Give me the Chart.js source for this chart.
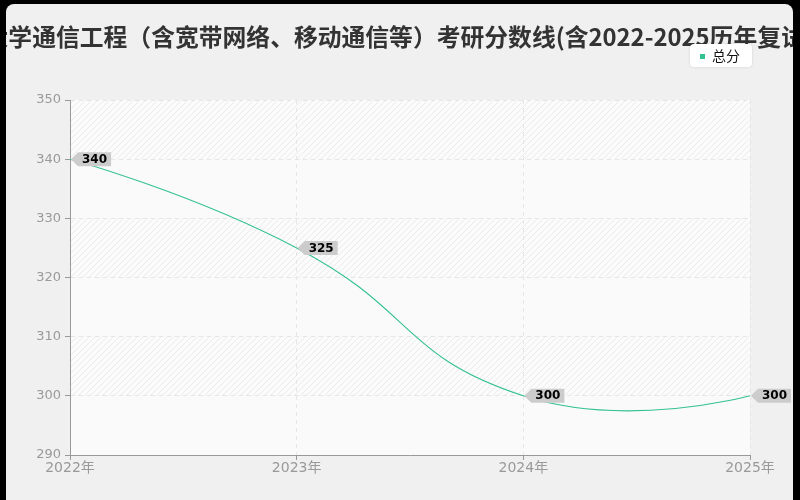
<!DOCTYPE html>
<html><head><meta charset="utf-8">
<script src="https://cdn.jsdelivr.net/npm/chart.js@4"></script>
<style>html,body{margin:0;padding:0;background:#000;}canvas{display:block;}</style>
</head><body>
<canvas id="c" width="800" height="500"></canvas>
<script>
const categories = ['2022年','2023年','2024年','2025年'];
const scores = [340, 325, 300, 300];
const seriesName = '总分';
const titleText = '大学通信工程（含宽带网络、移动通信等）考研分数线(含2022-2025历年复试)';
const yTicks = [290, 300, 310, 320, 330, 340, 350];

const FONT = '"DejaVu Sans","Noto Sans CJK SC",sans-serif';
const TFONT = '"Noto Sans CJK SC","Noto Sans",sans-serif';
const lineColor = '#33c193';

function makePattern(){
  const p = document.createElement('canvas'); p.width = 6; p.height = 6;
  const g = p.getContext('2d');
  g.fillStyle = '#fbfbfb'; g.fillRect(0,0,6,6);
  g.strokeStyle = '#ebebeb'; g.lineWidth = 1;
  g.beginPath(); g.moveTo(0,6); g.lineTo(6,0); g.moveTo(-1,1); g.lineTo(1,-1); g.moveTo(5,7); g.lineTo(7,5); g.stroke();
  return p;
}

const bgPlugin = {
  id: 'bg',
  beforeDraw(chart){
    const ctx = chart.ctx;
    ctx.save();
    ctx.fillStyle = '#000'; ctx.fillRect(0,0,800,500);
    ctx.fillStyle = '#f0f0f0';
    ctx.beginPath(); ctx.roundRect(6,4,787,520,8); ctx.fill();
    const a = chart.chartArea, ys = chart.scales.y;
    const pat = ctx.createPattern(makePattern(),'repeat');
    for (let i = 0; i < yTicks.length - 1; i++){
      const y0 = ys.getPixelForValue(yTicks[i+1]), y1 = ys.getPixelForValue(yTicks[i]);
      const hatched = (yTicks.length - 2 - i) % 2 === 0;
      ctx.fillStyle = hatched ? pat : '#fafafa';
      ctx.fillRect(a.left, y0, a.right-a.left, y1-y0);
    }
    // title (clipped by the frame, runs off both edges like the reference)
    ctx.save();
    ctx.beginPath(); ctx.rect(6,4,787,60); ctx.clip();
    ctx.font = 'bold 23.8px ' + TFONT;
    ctx.fillStyle = '#333';
    ctx.textBaseline = 'middle'; ctx.textAlign = 'left';
    const upTo = titleText.indexOf('复') + 1;
    const wPart = ctx.measureText(titleText.slice(0, upTo)).width;
    ctx.fillText(titleText, 781 - wPart, 37);
    ctx.restore();
    // legend
    ctx.fillStyle = '#fff';
    ctx.shadowColor = 'rgba(0,0,0,0.12)'; ctx.shadowBlur = 3;
    ctx.beginPath(); ctx.roundRect(690,44,62,23,4); ctx.fill();
    ctx.shadowBlur = 0; ctx.shadowColor = 'transparent';
    ctx.fillStyle = lineColor; ctx.fillRect(700,54,5,5);
    ctx.fillStyle = '#111'; ctx.font = '14px "Noto Sans CJK SC",sans-serif';
    ctx.textBaseline = 'middle'; ctx.textAlign = 'left';
    ctx.fillText(seriesName, 712, 56);
    ctx.restore();
  }
};

// ECharts-style bezier smoothing (endpoint control points at the point itself)
const smoothPlugin = {
  id: 'smooth',
  beforeDatasetDraw(chart, args){
    const meta = chart.getDatasetMeta(args.index);
    const pts = meta.data, n = pts.length, s = 0.5;
    for (let i = 0; i < n; i++){
      const p = pts[i];
      if (i === 0 || i === n-1){ p.cp1x = p.cp2x = p.x; p.cp1y = p.cp2y = p.y; continue; }
      const prev = pts[i-1], next = pts[i+1];
      const vx = (next.x - prev.x)*s, vy = (next.y - prev.y)*s;
      let d0 = Math.hypot(p.x-prev.x, p.y-prev.y), d1 = Math.hypot(next.x-p.x, next.y-p.y);
      const sum = d0 + d1; if (sum) { d0 /= sum; d1 /= sum; }
      p.cp1x = p.x - vx*d0; p.cp1y = p.y - vy*d0;
      p.cp2x = p.x + vx*d1; p.cp2y = p.y + vy*d1;
    }
    meta.dataset._pointsUpdated = true;
  }
};

const labelPlugin = {
  id: 'lbl',
  afterDatasetsDraw(chart){
    const ctx = chart.ctx; const meta = chart.getDatasetMeta(0);
    ctx.save();
    ctx.font = 'bold 12px "DejaVu Sans",sans-serif';
    meta.data.forEach((pt,i)=>{
      const txt = String(scores[i]);
      const w = ctx.measureText(txt).width;
      const x = pt.x + 1, y = pt.y, h = 14, aw = 7;
      ctx.fillStyle = '#cccccc';
      ctx.beginPath();
      ctx.moveTo(x, y);
      ctx.lineTo(x+aw, y-h/2);
      ctx.lineTo(x+aw+w+8, y-h/2);
      ctx.lineTo(x+aw+w+8, y+h/2);
      ctx.lineTo(x+aw, y+h/2);
      ctx.closePath(); ctx.fill();
      ctx.fillStyle = '#000'; ctx.textBaseline='middle'; ctx.textAlign='left';
      ctx.fillText(txt, x+aw+4, y+0.5);
    });
    ctx.restore();
  }
};

new Chart(document.getElementById('c'), {
  type: 'line',
  data: { labels: categories, datasets: [{
    label: seriesName, data: scores, borderColor: lineColor, borderWidth: 1.1,
    pointRadius: 0, tension: 0.5, fill: false
  }]},
  options: {
    responsive: false, animation: false, devicePixelRatio: 1,
    layout: { padding: { top: 100, right: 50, left: 0, bottom: 0 } },
    plugins: { legend: { display: false }, title: { display: false }, tooltip: { enabled: false } },
    scales: {
      x: {
        offset: false,
        grid: { color: '#e6e6e6', drawTicks: true, tickLength: 5, tickColor: '#999' },
        border: { color: '#999', dash: [4,4] },
        ticks: { color: '#999', font: { size: 14, family: FONT }, padding: 0, maxRotation: 0, autoSkip: false },
        afterFit(s){ s.height = 45; }
      },
      y: {
        min: 290, max: 350,
        afterBuildTicks(s){ s.ticks = yTicks.map(v=>({value:v})); },
        grid: { color: '#e6e6e6', tickLength: 5, tickColor: '#999' },
        border: { color: '#999', dash: [4,4] },
        ticks: { color: '#999', font: { size: 13, family: '"DejaVu Sans",sans-serif' }, padding: 4 },
        afterFit(s){ s.width = 70; }
      }
    }
  },
  plugins: [bgPlugin, smoothPlugin, labelPlugin]
});
</script>
</body></html>
